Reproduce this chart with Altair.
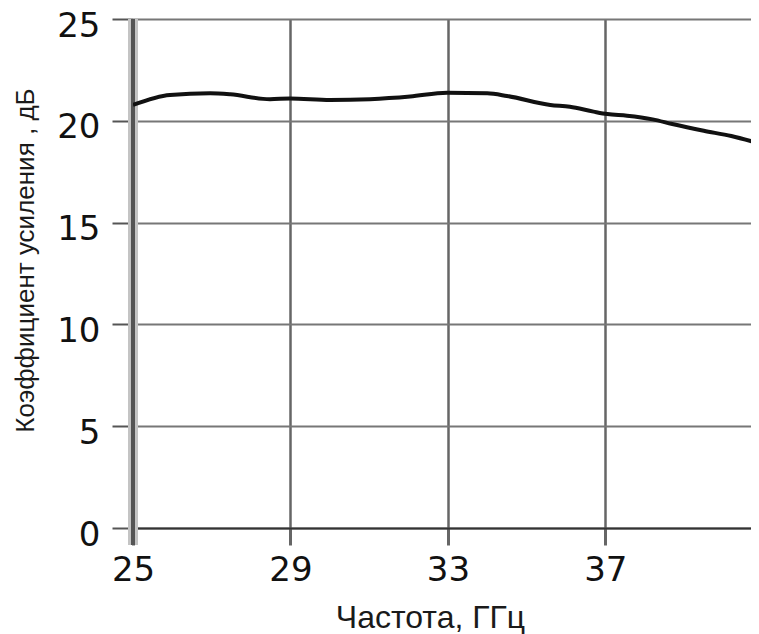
import altair as alt
import pandas as pd

freq = [25.0, 25.94, 26.96, 27.47, 28.48, 28.99, 30.01, 31.02, 32.04, 32.98,
        34.0, 34.5, 35.6, 36.1, 36.7, 37.05, 37.55, 38.2, 38.7, 39.5, 40.2, 40.9]
gain = [20.78, 21.27, 21.35, 21.30, 21.06, 21.10, 21.02, 21.06, 21.19, 21.38,
        21.35, 21.22, 20.78, 20.69, 20.45, 20.33, 20.25, 20.07, 19.84, 19.51, 19.25, 18.89]
x_ticks = [25, 29, 33, 37]
y_ticks = [0, 5, 10, 15, 20, 25]
x_domain = [25, 40.7]
y_domain = [0, 25]
x_title = "Частота, ГГц"
y_title = "Коэффициент  усиления , дБ"

df = pd.DataFrame({"f": freq, "g": gain})
W, H = 618, 509
FONT = "Liberation Sans"
TICKFONT = "DejaVu Sans"

xs = alt.Scale(domain=x_domain, nice=False, zero=False)
ys = alt.Scale(domain=y_domain, nice=False, zero=True)

x_axis = alt.Axis(
    values=x_ticks, title=x_title, grid=True, gridColor="#666", gridWidth=2.5,
    tickSize=17, tickWidth=3, tickColor="#666",
    domainColor="#333", domainWidth=2,
    labelFont=TICKFONT, labelFontSize=34, labelColor="#111", labelPadding=8,
    labelFlush=False,
    titleFont=FONT, titleFontSize=32, titleFontWeight="normal", titleColor="#1a1a1a",
    titleX=297, titleY=99, titleBaseline="alphabetic", titleAlign="center",
)
y_axis = alt.Axis(
    values=y_ticks, title=y_title, grid=True, gridColor="#777", gridWidth=1.8,
    tickSize=21, tickWidth=2, tickColor="#555", domain=False,
    labelFont=TICKFONT, labelFontSize=34, labelColor="#111", labelPadding=12,
    labelFlush=False, labelOffset=7,
    titleFont=FONT, titleFontSize=26, titleFontWeight="normal", titleColor="#1a1a1a",
    titleAngle=270, titleX=-108, titleY=241, titleAlign="center", titleBaseline="middle",
)

band = alt.Chart(df).mark_rule(color="#c4c4c4", strokeWidth=9).encode(
    x=alt.X(datum=25, type="quantitative", scale=xs, axis=x_axis),
    y=alt.value(0), y2=alt.value(H + 17),
)
dark = alt.Chart(df).mark_rule(color="#555", strokeWidth=3).encode(
    x=alt.X(datum=25, type="quantitative", scale=xs, axis=x_axis),
    y=alt.value(0), y2=alt.value(H + 17),
)
line = alt.Chart(df).mark_line(color="#111", strokeWidth=4, interpolate="monotone", clip=True).encode(
    x=alt.X("f:Q", scale=xs, axis=x_axis),
    y=alt.Y("g:Q", scale=ys, axis=y_axis),
)

chart = alt.layer(band, dark, line).properties(
    width=W, height=H,
    padding={"left": 125, "top": 11, "right": 0, "bottom": 106},
    autosize=alt.AutoSizeParams(type="none"),
).configure_view(stroke=None)

chart.save("out.html", embed_options={"renderer": "svg", "actions": False})
